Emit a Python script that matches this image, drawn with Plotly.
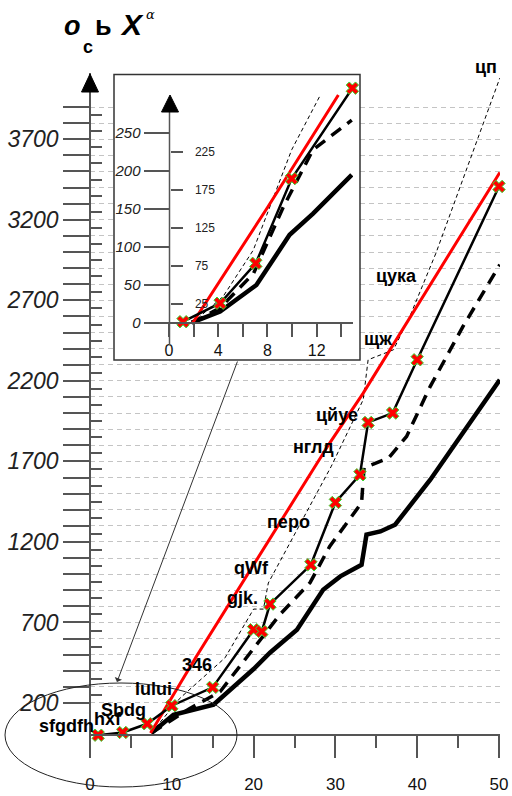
import plotly.graph_objects as go

W, H = 512, 796
def px(x): return x / W
def py(y): return 1 - y / H

# ---------------- data: main chart ----------------
x_main = [1, 4, 7, 10, 15, 20, 21, 22, 27, 30, 33, 34, 37, 40, 50]
y_main = [0, 17, 71, 183, 297, 655, 644, 814, 1058, 1445, 1617, 1942, 2000, 2331, 3407]

x_red = [7.4, 13, 29.3, 33.4, 45, 50.1]
y_red = [14, 489, 1814, 2124, 3076, 3494]

x_thin = [7.5, 11, 16.5, 20, 21.2, 21.8, 29.5, 33.4, 34.0, 37.1, 39.1, 42.3, 50.1]
y_thin = [14, 230, 480, 783, 783, 945, 1670, 2083, 2331, 2393, 2600, 2994, 4080]

x_dash = [7.5, 12, 15.9, 20.6, 23.2, 26.9, 29.3, 33.2, 33.5, 36.5, 38.7, 41.6, 45.6, 50.1]
y_dash = [14, 160, 270, 573, 748, 947, 1172, 1443, 1660, 1721, 1855, 2166, 2538, 2921]

x_thick = [7.5, 10.2, 15.1, 20, 22, 25.3, 28.5, 30.6, 33.2, 33.8, 35.5, 37.3, 41.6, 50.1]
y_thick = [14, 127, 190, 411, 512, 655, 903, 986, 1058, 1245, 1265, 1307, 1586, 2206]

# ---------------- data: inset chart ----------------
xi_main = [1.14, 4.15, 7.05, 9.97, 14.9]
yi_main = [1.7, 26, 78.5, 190, 309]
xi_red = [1.93, 8.0, 13.76]
yi_red = [0.4, 152, 300]
xi_thin = [1.9, 4.4, 6.85, 8.5, 9.97, 12.3]
yi_thin = [0, 35, 96, 166, 228, 300]
xi_dash = [1.9, 4.15, 6.86, 9.3, 11.7, 14.85]
yi_dash = [0, 20, 65, 153, 228, 267]
xi_thick = [1.84, 4.15, 7.1, 9.8, 11.7, 14.85]
yi_thick = [0.4, 15, 50, 116, 144, 195]

# ---------------- ticks / labels ----------------
x_ticks = [0, 10, 20, 30, 40, 50]
x_minor = [5, 15, 25, 35, 45]
y_ticks = list(range(200, 4000, 100))
y_labels = [str(v) if (v - 200) % 500 == 0 else "" for v in y_ticks]
y_minor = list(range(250, 3900, 100))

xi_ticks = [0, 2, 4, 6, 8, 10, 12, 14]
xi_labels = ["0", "", "4", "", "8", "", "12", ""]
yi_ticks = [0, 50, 100, 150, 200, 250]
yi_minor = [25, 75, 125, 175, 225]

labels = ["цп", "цука", "щж", "цйуе", "нглд", "перо", "qWf", "gjk.", "346", "lului", "Sbdg", "hxf", "sfgdfh"]
label_pos = [(486, 67), (396, 276), (378, 339), (337, 415), (313, 447), (288, 522), (251, 568),
             (242, 598), (197, 665), (153, 689), (123, 710), (108, 719), (66, 726)]

# ---------------- geometry ----------------
K = 0.16106          # px per unit main y
KX = 8.18            # px per unit main x
Y0 = 735.2           # px of y=0
main_yr = [(Y0 - 758) / K, (Y0 - 73) / K]
KI = 0.76
YI0 = 323
inset_yr = [(YI0 - 345) / KI, (YI0 - 78) / KI]

BLACK = "#000000"
RED = "#ff0000"
MK = dict(symbol="x", size=11, color=RED, line=dict(color="#33dd33", width=1))

fig = go.Figure()

# main traces
fig.add_trace(go.Scatter(x=x_thick, y=y_thick, mode="lines", line=dict(color=BLACK, width=4.5)))
fig.add_trace(go.Scatter(x=x_dash, y=y_dash, mode="lines", line=dict(color=BLACK, width=3.5, dash="12px,8px")))
fig.add_trace(go.Scatter(x=x_thin, y=y_thin, mode="lines", line=dict(color=BLACK, width=1, dash="4px,3px")))
fig.add_trace(go.Scatter(x=x_red, y=y_red, mode="lines", line=dict(color=RED, width=3)))
fig.add_trace(go.Scatter(x=x_main, y=y_main, mode="lines+markers", line=dict(color=BLACK, width=2.5),
                         marker=MK, cliponaxis=False))

# inset traces
fig.add_trace(go.Scatter(x=xi_thick, y=yi_thick, mode="lines", line=dict(color=BLACK, width=4.5), xaxis="x2", yaxis="y2"))
fig.add_trace(go.Scatter(x=xi_dash, y=yi_dash, mode="lines", line=dict(color=BLACK, width=3.5, dash="12px,8px"), xaxis="x2", yaxis="y2"))
fig.add_trace(go.Scatter(x=xi_thin, y=yi_thin, mode="lines", line=dict(color=BLACK, width=1, dash="4px,3px"), xaxis="x2", yaxis="y2"))
fig.add_trace(go.Scatter(x=xi_red, y=yi_red, mode="lines", line=dict(color=RED, width=3), xaxis="x2", yaxis="y2"))
fig.add_trace(go.Scatter(x=xi_main, y=yi_main, mode="lines+markers", line=dict(color=BLACK, width=2.5),
                         marker=MK, cliponaxis=False, xaxis="x2", yaxis="y2"))
# helper (invisible) trace to activate the overlaying minor-label axis
fig.add_trace(go.Scatter(x=[0], y=[0], mode="markers", marker=dict(opacity=0), xaxis="x2", yaxis="y3", hoverinfo="skip"))

AX = "#555555"
fig.update_layout(
    width=W, height=H, margin=dict(l=0, r=0, t=0, b=0, pad=0, autoexpand=False), autosize=False,
    paper_bgcolor="white", plot_bgcolor="rgba(0,0,0,0)", showlegend=False,
    xaxis=dict(domain=[px(90), px(500)], range=[0, 410 / KX], anchor="free", position=py(Y0),
               automargin=False,
               showline=True, linecolor=AX, linewidth=1.5, showgrid=False, zeroline=False,
               tickmode="array", tickvals=x_ticks, ticks="outside", ticklen=22, tickwidth=1.5, tickcolor=AX,
               ticklabelstandoff=12,
               tickfont=dict(family="Liberation Sans", size=17, color="#111"),
               minor=dict(tickmode="array", tickvals=x_minor, ticks="outside", ticklen=12, tickwidth=1.5,
                          tickcolor=AX, showgrid=False)),
    yaxis=dict(domain=[py(758), py(73)], range=main_yr, anchor="free", position=px(90),
               automargin=False,
               showline=True, linecolor=AX, linewidth=1.5, zeroline=False,
               showgrid=True, gridcolor="#c4c4c4", gridwidth=1, griddash="5px,4px",
               tickmode="array", tickvals=y_ticks, ticktext=y_labels, ticks="outside", ticklen=26,
               tickwidth=1.5, tickcolor=AX,
               tickfont=dict(family="Liberation Sans", size=23, style="italic", color="#222"),
               minor=dict(tickmode="array", tickvals=y_minor, ticks="inside", ticklen=11, tickwidth=1.5,
                          tickcolor=AX, showgrid=False)),
    xaxis2=dict(domain=[px(167.8), px(353)], range=[-0.1, 14.95], anchor="free", position=py(YI0),
                automargin=False,
                showline=True, linecolor=AX, linewidth=1.5, showgrid=False, zeroline=False,
                tickmode="array", tickvals=xi_ticks, ticktext=xi_labels, ticks="outside", ticklen=13,
                tickwidth=1.5, tickcolor=AX,
                tickfont=dict(family="Liberation Sans", size=16, color="#111")),
    yaxis2=dict(domain=[py(345), py(78)], range=inset_yr, anchor="free", position=px(169.5),
                automargin=False,
                showline=False, showgrid=False, zeroline=False,
                tickmode="array", tickvals=yi_ticks, ticks="outside", ticklen=26, tickwidth=1.5, tickcolor=AX,
                tickfont=dict(family="Liberation Sans", size=15, style="italic", color="#222")),
    yaxis3=dict(overlaying="y2", side="right", range=inset_yr, anchor="free", position=px(169.5),
                automargin=False,
                showline=False, showgrid=False, zeroline=False,
                tickmode="array", tickvals=yi_minor, ticks="outside", ticklen=12, tickwidth=1.5, tickcolor=AX,
                ticklabelstandoff=10,
                tickfont=dict(family="Liberation Sans", size=12, color="#222")),
)

shapes = []
# inset white box (in main axis coords so it covers the main gridlines only)
shapes.append(dict(type="rect", xref="x", yref="y", layer="between",
                   x0=(114 - 90) / KX, x1=(360 - 90) / KX, y0=(Y0 - 360) / K, y1=(Y0 - 74.5) / K,
                   fillcolor="white", line=dict(color="#333333", width=1.5)))
# inset y-axis line
shapes.append(dict(type="line", xref="paper", yref="paper", x0=px(169.5), x1=px(169.5), y0=py(100), y1=py(345),
                   line=dict(color=AX, width=1.5), layer="above"))
# arrow heads on the y axes
def tri(cx, apex, base, hw):
    return "M {},{} L {},{} L {},{} Z".format(px(cx), py(apex), px(cx - hw), py(base), px(cx + hw), py(base))
shapes.append(dict(type="path", xref="paper", yref="paper", path=tri(90, 74, 92, 8.5),
                   fillcolor="black", line=dict(color="black", width=1), layer="above"))
shapes.append(dict(type="path", xref="paper", yref="paper", path=tri(170, 95, 112, 8.5),
                   fillcolor="black", line=dict(color="black", width=1), layer="above"))
# ellipse
shapes.append(dict(type="circle", xref="paper", yref="paper", x0=px(5), x1=px(237), y0=py(787), y1=py(683),
                   line=dict(color="#222", width=1), fillcolor="rgba(0,0,0,0)", layer="above"))
fig.update_layout(shapes=shapes)

ann = []
def add_text(t, x, y, size, family="Liberation Sans"):
    ann.append(dict(text=t, x=px(x), y=py(y), xref="paper", yref="paper", showarrow=False,
                    xanchor="center", yanchor="middle", font=dict(family=family, size=size, color="black")))

for t, (lx, ly) in zip(labels, label_pos):
    add_text("<b>" + t + "</b>", lx, ly, 18)
# title pieces
add_text("<b><i>o</i></b>", 72, 26, 27)
add_text("<b>c</b>", 88, 47, 18)
add_text("<b>ь</b>", 103, 26, 27)
add_text("<b><i>X</i></b>", 132, 24, 30)
add_text("<i>α</i>", 150, 15, 13, "DejaVu Serif")
# arrow from inset to the ellipse
ann.append(dict(text="", x=px(117), y=py(682), xref="paper", yref="paper", showarrow=True,
                ax=121, ay=-322, arrowhead=1, arrowsize=1.3, arrowwidth=1, arrowcolor="#333"))
fig.update_layout(annotations=ann)

fig.write_html("out.html",
               config={"displayModeBar": False, "responsive": False},
               post_script=("document.documentElement.style.margin='0px';"
                            "document.documentElement.style.overflow='hidden';"
                            "document.body.style.margin='0px';document.body.style.padding='0px';"
                            "document.body.style.overflow='hidden';"))
